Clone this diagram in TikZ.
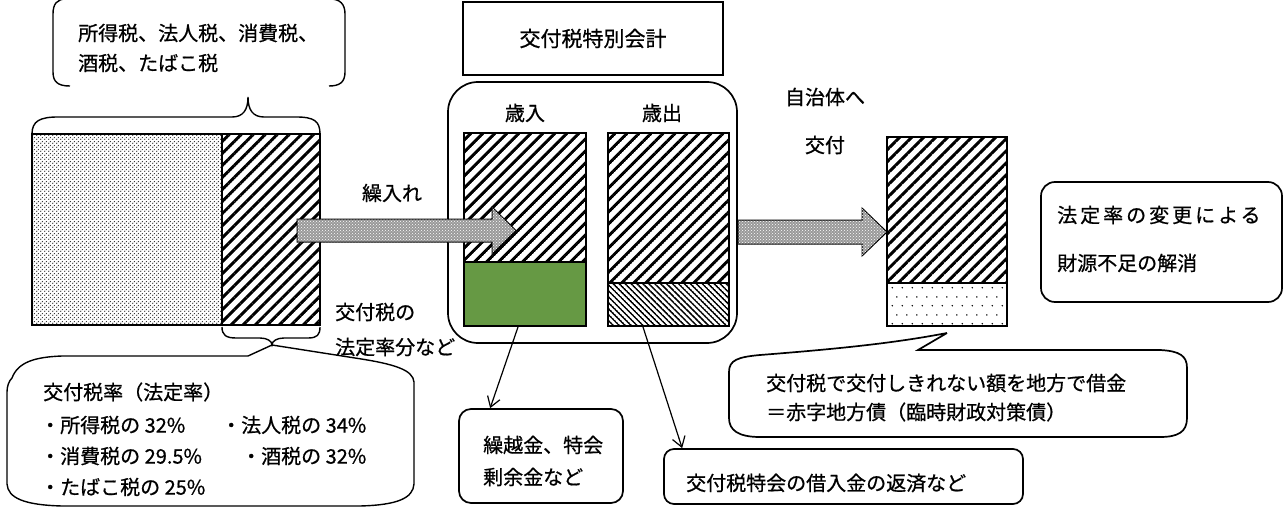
\documentclass[tikz,border=0pt]{standalone}
\usepackage{fontspec}
\newfontfamily\jp[FakeBold=0.7]{Noto Sans CJK JP}
\newfontfamily\jpw[FakeBold=0.7,LetterSpace=15]{Noto Sans CJK JP}
\usetikzlibrary{patterns,patterns.meta,arrows.meta,calc}

\tikzdeclarepattern{name=bighatch, type=uncolored,
  bounding box={(0pt,-1.6pt) and (8.5pt,1.6pt)},
  tile size={(8.5pt,8.5pt)},
  tile transformation={rotate=45},
  code={\draw[line width=3pt] (0pt,0pt) -- (8.5pt,0pt);}}
\tikzdeclarepattern{name=smallhatch, type=uncolored,
  bounding box={(0pt,-0.8pt) and (4.2pt,0.8pt)},
  tile size={(4.2pt,4.2pt)},
  tile transformation={rotate=-45},
  code={\draw[line width=1.5pt] (0pt,0pt) -- (4.2pt,0pt);}}
\tikzdeclarepattern{name=finedots, type=uncolored,
  bounding box={(0pt,0pt) and (4pt,4pt)},
  tile size={(4pt,4pt)},
  code={\fill (1pt,1pt) circle [radius=0.8pt]; \fill (3pt,3pt) circle [radius=0.8pt];}}
\tikzdeclarepattern{name=sparsedots, type=uncolored,
  bounding box={(0pt,0pt) and (10pt,18pt)},
  tile size={(10pt,18pt)},
  code={\fill (2.5pt,4.5pt) circle [radius=0.9pt]; \fill (7.5pt,13.5pt) circle [radius=0.9pt];}}

\definecolor{revgreen}{RGB}{102,153,68}

\begin{document}
\begin{tikzpicture}[x=1pt,y=-1pt,
  jt/.style={font=\jp\fontsize{20}{24}\selectfont, inner sep=0pt},
  heavy/.style={line width=2.6pt},
  bline/.style={line width=1.4pt},
  mline/.style={line width=1.7pt},
  bigarrow/.style={line width=1pt, fill=black!40, postaction={pattern=crosshatch dots, pattern color=white}},
  thinarrow/.style={line width=1.2pt, -{Straight Barb[length=10pt,width=13pt]}},
]
\useasboundingbox (0,0) rectangle (1285,508);

% top-left bracket callout
\draw[bline] (66,-1) .. controls (57,-1) and (53,4) .. (53,14) -- (53,72) .. controls (53,82) and (58,86) .. (70,86);
\draw[bline] (330,-1) .. controls (340,-1) and (345,4) .. (345,14) -- (345,72) .. controls (345,82) and (340,86) .. (329,86);
\node[jt, anchor=west] (tl1) at (78,33) {所得税、法人税、消費税、};
\node[jt, anchor=west] (tl2) at (78,63) {酒税、たばこ税};

% upper brace
\draw[bline] (32,134) .. controls (32,121) and (40,117) .. (58,117) -- (232,117) .. controls (243,117) and (248,110) .. (248,97) .. controls (248,110) and (253,117) .. (264,117) -- (296,117) .. controls (314,117) and (320,121) .. (320,134);

% total tax box
\fill[pattern=finedots, pattern color=black!85] (32,134) rectangle (222,325);
\fill[pattern=bighatch] (222,134) rectangle (320,325);
\draw[heavy] (32,134) rectangle (320,325);
\draw[heavy] (222,134) -- (222,325);

% lower brace
\draw[bline] (222,327) .. controls (222,335) and (226,338) .. (236,338) -- (260,338) .. controls (267,338) and (272,341) .. (272,345) .. controls (272,341) and (277,338) .. (284,338) -- (308,338) .. controls (317,338) and (320,335) .. (320,327);

% lower-left callout
\draw[bline] (12,378) .. controls (18,362) and (35,357) .. (62,356) -- (248,356) -- (272,345) -- (355,358) .. controls (395,364) and (413,370) .. (414,382) -- (414,484) .. controls (413,498) and (398,505) .. (360,506) -- (62,506) .. controls (24,505) and (8,498) .. (7,484) -- (7,392) .. controls (7,386) and (9,381) .. (12,378);
\node[jt, anchor=west] (r0) at (43,392) {交付税率（法定率）};
\node[jt, anchor=west] (r1) at (40,425) {・所得税の 32\%};
\node[jt, anchor=west] (r2) at (221,425) {・法人税の 34\%};
\node[jt, anchor=west] (r3) at (40,456) {・消費税の 29.5\%};
\node[jt, anchor=west] (r4) at (241,456) {・酒税の 32\%};
\node[jt, anchor=west] (r5) at (40,487) {・たばこ税の 25\%};

\node[jt, anchor=west] (hs1) at (335,312) {交付税の};
\node[jt, anchor=west] (hs2) at (335,347) {法定率分など};

% special account
\node[jt, font=\jp\fontsize{21}{24}\selectfont, draw, heavy, minimum width=260, minimum height=73] (hdr) at (593,38.5) {交付税特別会計};
\draw[mline, rounded corners=30] (448,82) rectangle (737,343);
\node[jt] (rin) at (525,113) {歳入};
\node[jt] (rout) at (662,113) {歳出};

% revenue bar
\fill[pattern=bighatch] (464,133) rectangle (586,262);
\fill[revgreen] (464,262) rectangle (586,326);
\draw[heavy] (464,133) rectangle (586,326);
\draw[heavy] (464,262) -- (586,262);

% expenditure bar
\fill[pattern=bighatch] (608,133) rectangle (729,283);
\fill[pattern=smallhatch] (608,283) rectangle (729,326);
\draw[heavy] (608,133) rectangle (729,326);
\draw[heavy] (608,283) -- (729,283);

% local government bar
\fill[pattern=bighatch] (887,137) rectangle (1007,283);
\fill[pattern=sparsedots] (887,283) rectangle (1007,326);
\draw[heavy] (887,137) rectangle (1007,326);
\draw[heavy] (887,283) -- (1007,283);

% block arrows
\draw[bigarrow] (297,219) -- (492,219) -- (492,207) -- (516,230.5) -- (492,254) -- (492,242) -- (297,242) -- cycle;
\node[jt] (kuri) at (392,193) {繰入れ};
\draw[bigarrow] (738,220) -- (862,220) -- (862,208) -- (887,232) -- (862,256) -- (862,244) -- (738,244) -- cycle;
\node[jt] (jt1) at (825,97) {自治体へ};
\node[jt] (jt2) at (825,145) {交付};

% right rounded box
\node[draw, mline, rounded corners=14, minimum width=241, minimum height=120, inner sep=0pt] (resolve) at (1161.5,242) {};
\node[jt, font=\jpw\fontsize{20}{24}\selectfont, anchor=west] (rs1) at (1057,215) {法定率の変更による};
\node[jt, anchor=west] (rs2) at (1057,263) {財源不足の解消};

% right speech callout
\draw[mline] (947,333) -- (918,350) -- (1160,350) .. controls (1180,351) and (1187,356) .. (1187,368) -- (1187,418) .. controls (1187,432) and (1178,437) .. (1160,437) -- (760,437) .. controls (738,437) and (729,430) .. (729,418) -- (729,372) .. controls (729,360) and (738,357) .. (760,355) .. controls (850,348) and (900,342) .. (947,333);
\node[jt, anchor=west] (sp1) at (766,383) {交付税で交付しきれない額を地方で借金};
\node[jt, anchor=west] (sp2) at (766,412) {＝赤字地方債（臨時財政対策債）};

% lower boxes
\node[draw, mline, rounded corners=12, minimum width=164, minimum height=94, inner sep=0pt] (carry) at (541,456) {};
\node[jt, anchor=west] (c1) at (483,445) {繰越金、特会};
\node[jt, anchor=west] (c2) at (483,477) {剰余金など};
\node[draw, mline, rounded corners=10, minimum width=359, minimum height=55, inner sep=0pt] (repay) at (843.5,476.5) {};
\node[jt, anchor=west] (rp) at (686,483) {交付税特会の借入金の返済など};

\coordinate (revout) at (518,327);
\coordinate (expout) at (643,327);
\draw[thinarrow] (revout) -- ($(carry.north west)+(32,0)$);
\draw[thinarrow] (expout) -- ($(repay.north west)+(19,0)$);
\end{tikzpicture}
\end{document}
